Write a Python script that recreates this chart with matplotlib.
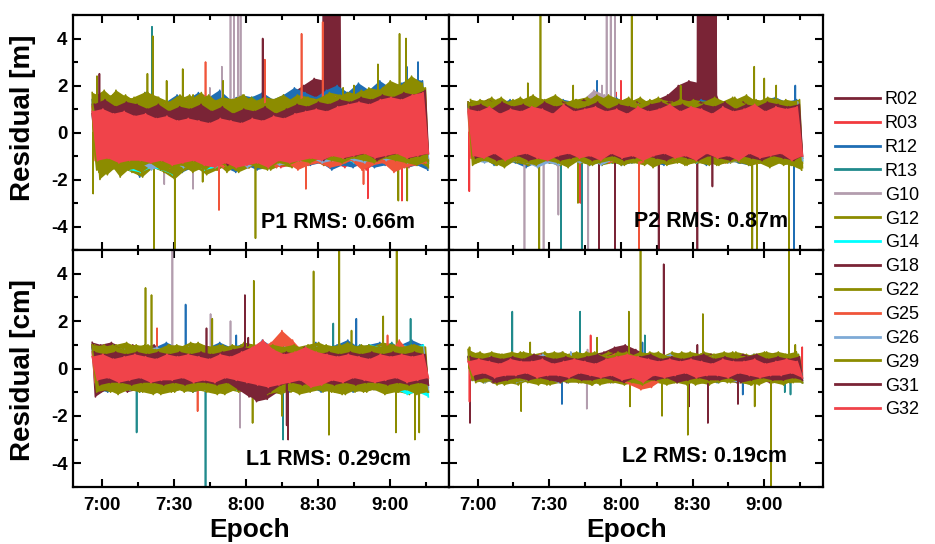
import numpy as np
import matplotlib
matplotlib.use("Agg")
import matplotlib.pyplot as plt
from matplotlib.lines import Line2D
from matplotlib.ticker import MultipleLocator

plt.rcParams['font.family'] = ['Liberation Sans', 'DejaVu Sans']

# ---------------- data ----------------
SATS = ['R02', 'R03', 'R12', 'R13', 'G10', 'G12', 'G14',
        'G18', 'G22', 'G25', 'G26', 'G29', 'G31', 'G32']
COLORS = ['#7A2436', '#F23A3E', '#1F6EB4', '#208A8C', '#B39DAE', '#8C8C00', '#00FFFF',
          '#7A2436', '#8C8C00', '#F0553A', '#7EAAD6', '#8C8C00', '#7A2436', '#F0434A']
T_START, T_END = 416.0, 556.0          # minutes of day (6:56 .. 9:16)
XTICKS = [420, 450, 480, 510, 540]
XTICK_LABELS = ['7:00', '7:30', '8:00', '8:30', '9:00']
YTICKS = [-4, -2, 0, 2, 4]
PANEL_LABELS = ['P1 RMS: 0.66m', 'P2 RMS: 0.87m', 'L1 RMS: 0.29cm', 'L2 RMS: 0.19cm']
YLABELS = ['Residual [m]', 'Residual [cm]']
SCALE = 0.1   # values are given in tenths of the panel unit

# residual swings per satellite: consecutive (high, low) pairs, evenly spaced epochs
P1_BAND = {
    'R02': [12,-9, 11,-10, 13,-8, 10,-11, 12,-9, 11,-8, 13,-10, 10,-9, 12,-11, 11,-8, 13,-9, 12,-10, 11,-8, 13,-9, 10,-10, 12,-8, 11,-9, 13,-7, 15,-6, 17,-4, 20,-2, 23,4, 22,3, 24,2, 13,-8, 12,-10, 11,-9, 13,-8, 12,-10, 11,-9, 13,-8, 12,-10],
    'R03': [10,-13, 9,-12, 11,-14, 8,-13, 10,-15, 9,-12, 8,-14, 10,-13, 7,-15, 9,-14, 8,-13, 7,-16, 9,-14, 8,-13, 10,-15, 9,-14, 11,-13, 10,-15, 12,-14, 11,-13, 13,-12, 12,-14, 14,-13, 13,-15, 15,-12, 14,-16, 16,-13, 15,-14, 17,-12, 16,-15, 18,-13, 17,-12],
    'R12': [14,-15, 16,-13, 13,-17, 15,-14, 14,-19, 17,-15, 15,-16, 13,-18, 16,-17, 14,-15, 17,-16, 15,-14, 18,-15, 14,-17, 16,-14, 15,-16, 17,-15, 14,-13, 16,-14, 19,-15, 17,-14, 15,-13, 18,-16, 20,-14, 17,-15, 21,-13, 18,-15, 22,-14, 19,-13, 21,-15, 23,-14, 22,-16],
    'R13': [12,-13, 14,-12, 13,-14, 11,-13, 12,-15, 14,-12, 13,-14, 12,-13, 11,-12, 13,-14, 12,-13, 10,-12, 14,-13, 12,-11, 13,-14, 15,-12, 12,-13, 14,-12, 13,-11, 12,-13, 14,-12, 13,-10, 15,-12, 14,-11, 16,-12, 13,-11, 15,-13, 14,-12, 16,-11, 15,-12, 17,-13, 16,-12],
    'G10': [8,-11, 9,-12, 10,-11, 8,-13, 9,-12, 11,-14, 10,-15, 9,-13, 12,-17, 10,-14, 11,-13, 13,-16, 12,-12, 14,-13, 15,-12, 13,-14, 11,-12, 10,-13, 9,-11, 11,-12, 10,-13, 9,-11, 11,-12, 10,-10, 12,-12, 11,-11, 10,-13, 12,-12, 11,-11, 13,-12, 12,-11, 13,-12],
    'G12': [16,-20, 13,-16, 18,-15, 15,-17, 14,-19, 17,-15, 15,-17, 13,-20, 16,-16, 14,-15, 17,-18, 13,-16, 15,-14, 14,-17, 16,-15, 12,-13, 15,-16, 14,-14, 13,-15, 16,-13, 15,-12, 14,-14, 17,-12, 16,-13, 15,-11, 18,-14, 16,-12, 19,-13, 20,-12, 18,-14, 21,-13, 19,-15],
    'G14': [9,-13, 10,-15, 8,-14, 11,-16, 9,-17, 10,-15, 8,-16, 9,-18, 10,-15, 11,-14, 9,-16, 8,-15, 10,-14, 9,-13, 11,-14, 10,-13, 9,-12, 10,-14, 11,-13, 9,-12, 10,-11, 12,-13, 11,-12, 10,-11, 12,-13, 11,-12, 13,-11, 12,-12, 11,-13, 13,-14, 12,-12, 14,-13],
    'G18': [8,-12, 10,-11, 9,-13, 11,-10, 10,-12, 8,-13, 9,-11, 10,-12, 8,-14, 11,-12, 9,-13, 10,-11, 8,-12, 9,-14, 11,-12, 10,-13, 9,-11, 8,-12, 10,-13, 11,-11, 12,-10, 10,-12, 11,-11, 13,-10, 12,-12, 11,-11, 13,-10, 12,-12, 14,-11, 13,-10, 14,-12, 15,-11],
    'G22': [15,-17, 18,-13, 14,-19, 16,-15, 13,-17, 17,-14, 15,-16, 12,-18, 14,-15, 16,-14, 13,-16, 15,-13, 12,-17, 14,-14, 16,-15, 13,-13, 15,-14, 12,-12, 14,-13, 13,-11, 15,-12, 14,-13, 16,-11, 15,-12, 17,-10, 16,-13, 18,-12, 15,-11, 17,-13, 19,-12, 16,-11, 18,-13],
    'G25': [11,-12, 10,-13, 9,-14, 12,-11, 10,-13, 11,-14, 9,-12, 12,-15, 10,-13, 13,-12, 11,-14, 10,-13, 12,-15, 11,-12, 10,-14, 13,-13, 12,-12, 11,-15, 14,-13, 12,-16, 13,-14, 14,-13, 12,-15, 15,-14, 13,-12, 14,-16, 12,-14, 15,-13, 16,-17, 14,-15, 15,-14, 16,-13],
    'G26': [10,-13, 9,-14, 11,-12, 10,-15, 9,-13, 10,-16, 11,-14, 9,-13, 10,-15, 12,-14, 10,-12, 9,-13, 10,-14, 8,-12, 9,-15, 11,-13, 10,-12, 9,-14, 11,-13, 10,-12, 12,-11, 11,-13, 10,-12, 12,-11, 13,-12, 11,-13, 12,-10, 13,-12, 14,-11, 12,-13, 13,-12, 14,-11],
    'G29': [17,-16, 15,-18, 16,-14, 13,-16, 15,-15, 17,-13, 14,-16, 12,-15, 15,-14, 13,-17, 14,-15, 16,-13, 12,-14, 14,-16, 13,-13, 15,-15, 12,-16, 14,-13, 16,-14, 13,-12, 15,-13, 14,-11, 16,-12, 15,-13, 17,-11, 16,-12, 19,-13, 18,-11, 22,-12, 20,-13, 24,-14, 21,-12],
    'G31': [12,-10, 14,-9, 11,-12, 13,-10, 12,-9, 10,-11, 12,-12, 9,-13, 11,-10, 10,-12, 12,-13, 9,-11, 11,-14, 8,-12, 10,-13, 9,-11, 11,-12, 8,-10, 10,-11, 12,-9, 11,-10, 13,-12, 12,-9, 14,-11, 13,-10, 15,-9, 14,-12, 16,-10, 15,-9, 17,-11, 16,-10, 18,-9],
    'G32': [9,-12, 10,-11, 8,-13, 9,-12, 7,-12, 8,-13, 6,-12, 7,-14, 5,-13, 6,-12, 5,-14, 4,-15, 6,-13, 5,-15, 4,-14, 6,-13, 5,-15, 7,-12, 6,-13, 8,-12, 9,-11, 10,-12, 9,-10, 11,-11, 12,-10, 13,-9, 12,-11, 14,-10, 15,-9, 14,-11, 16,-10, 17,-9],
}
P1_SPIKES = {
    'R03': [(530.8, -28), (545.0, -29), (460.0, 15)],
    'R12': [(551.7, 30), (547.0, 28)],
    'R13': [(440.9, 45)],
    'G10': [(470.0, 28), (473.6, 60), (475.1, 60), (476.8, 60), (477.8, 60), (465.0, 19), (458.0, -24), (446.0, -22)],
    'G12': [(441.2, 41), (441.7, -60), (453.7, 27), (450.4, -60), (544.0, 42), (546.7, 40), (543.5, -29), (547.2, -29), (484.0, -45), (535.0, 29)],
    'G18': [(487.0, 40)],
    'G22': [(439.0, 25), (462.0, -21), (470.5, 22), (520.5, 19)],
    'G25': [(463.2, 30), (468.8, -33), (487.9, 31), (503.2, 42), (512.0, 47), (505.0, -24), (529.0, -22)],
    'G29': [(416.4, -26), (418.0, 24), (447.0, 22), (458.0, 16), (525.0, 20)],
    'G31': [(419.0, 25)],
}
P1_BLOCK = {'R02': (512.0, 519.4, [15, 80, 14, 80, 16, 80, 13, 80, 15, 80, 14, 80, 16, 80, 15, 80, 14, 80, 16, 80, 12])}

P2_BAND = {
    'R02': [12,-8, 13,-10, 11,-9, 14,-11, 12,-10, 13,-8, 11,-9, 12,-11, 13,-10, 11,-9, 12,-8, 14,-10, 12,-11, 11,-9, 13,-10, 12,-8, 11,-9, 13,-10, 14,-8, 16,-6, 20,-4, 22,2, 21,3, 23,1, 12,-9, 13,-10, 11,-8, 12,-9, 13,-10, 11,-9, 12,-8, 11,-10],
    'R03': [10,-12, 9,-12, 11,-11, 10,-13, 9,-12, 11,-11, 10,-12, 12,-13, 9,-11, 10,-12, 11,-13, 9,-12, 10,-11, 12,-12, 10,-13, 11,-12, 9,-11, 10,-12, 11,-13, 10,-12, 12,-11, 10,-12, 9,-13, 11,-12, 10,-11, 12,-13, 10,-12, 11,-11, 9,-12, 11,-13, 10,-12, 11,-11],
    'R12': [12,-12, 13,-11, 11,-14, 12,-12, 14,-13, 12,-15, 11,-13, 13,-12, 12,-14, 14,-13, 13,-12, 12,-14, 11,-13, 13,-12, 15,-14, 12,-13, 13,-12, 11,-13, 14,-14, 12,-12, 13,-13, 12,-12, 14,-14, 13,-13, 12,-12, 14,-13, 13,-14, 12,-12, 14,-13, 15,-12, 13,-14, 14,-13],
    'R13': [11,-12, 12,-11, 10,-13, 12,-12, 11,-11, 13,-12, 12,-13, 11,-12, 10,-11, 12,-13, 13,-12, 11,-11, 12,-12, 10,-13, 11,-12, 12,-11, 13,-12, 11,-13, 12,-11, 10,-12, 12,-12, 11,-11, 13,-13, 12,-12, 11,-11, 12,-13, 10,-12, 12,-11, 13,-12, 11,-13, 12,-12, 13,-11],
    'G10': [9,-10, 10,-11, 11,-9, 9,-12, 10,-10, 11,-11, 12,-13, 10,-12, 11,-14, 12,-12, 10,-11, 14,-10, 18,-11, 16,-10, 9,-12, 10,-11, 11,-10, 9,-12, 10,-11, 9,-10, 11,-11, 10,-12, 9,-10, 10,-11, 11,-10, 9,-12, 10,-11, 11,-10, 9,-11, 10,-12, 11,-10, 10,-11],
    'G12': [14,-13, 13,-12, 15,-14, 12,-13, 14,-12, 13,-14, 15,-12, 14,-13, 16,-14, 13,-12, 14,-13, 15,-14, 13,-12, 16,-13, 14,-14, 13,-12, 15,-13, 12,-12, 14,-14, 13,-13, 12,-12, 14,-13, 13,-14, 15,-12, 13,-13, 14,-12, 16,-14, 13,-13, 15,-12, 14,-14, 13,-13, 14,-15],
    'G14': [10,-12, 9,-11, 11,-13, 10,-12, 9,-11, 10,-12, 11,-13, 9,-12, 10,-11, 12,-13, 10,-12, 9,-11, 11,-12, 10,-13, 9,-11, 10,-12, 11,-11, 9,-13, 10,-12, 11,-11, 10,-12, 9,-13, 11,-11, 10,-12, 12,-12, 10,-11, 9,-13, 11,-12, 10,-11, 12,-12, 11,-13, 12,-12],
    'G18': [13,-9, 12,-10, 14,-11, 12,-9, 11,-10, 13,-11, 14,-12, 12,-9, 11,-10, 13,-11, 12,-10, 14,-9, 12,-11, 13,-10, 11,-9, 12,-11, 13,-10, 11,-12, 12,-10, 13,-11, 12,-9, 11,-10, 13,-11, 12,-10, 11,-9, 12,-11, 13,-10, 11,-9, 12,-11, 13,-10, 12,-12, 11,-10],
    'G22': [12,-13, 14,-12, 13,-14, 15,-12, 12,-13, 14,-14, 16,-12, 13,-13, 15,-14, 12,-12, 14,-13, 13,-12, 16,-14, 14,-13, 13,-12, 15,-13, 12,-14, 14,-12, 13,-13, 12,-12, 14,-14, 13,-12, 12,-13, 14,-14, 13,-12, 15,-13, 12,-14, 14,-12, 13,-13, 14,-12, 13,-14, 12,-13],
    'G25': [9,-11, 10,-12, 11,-10, 9,-13, 10,-11, 12,-12, 10,-14, 11,-11, 9,-12, 10,-13, 11,-11, 12,-12, 10,-11, 9,-13, 11,-12, 10,-11, 12,-13, 11,-12, 10,-11, 9,-12, 11,-13, 10,-12, 12,-11, 11,-12, 10,-13, 12,-12, 11,-11, 10,-13, 12,-12, 11,-11, 10,-12, 11,-13],
    'G26': [10,-12, 11,-13, 9,-12, 10,-14, 11,-12, 9,-13, 10,-15, 12,-13, 11,-14, 10,-12, 9,-13, 11,-12, 10,-14, 9,-12, 11,-13, 10,-12, 12,-11, 10,-13, 11,-12, 9,-11, 10,-13, 11,-12, 10,-11, 12,-12, 11,-13, 10,-12, 11,-11, 12,-13, 10,-12, 11,-11, 12,-12, 13,-12],
    'G29': [13,-14, 12,-12, 14,-13, 11,-15, 13,-12, 15,-13, 12,-14, 14,-12, 13,-13, 12,-15, 14,-12, 13,-14, 15,-13, 12,-12, 13,-14, 14,-13, 12,-12, 13,-15, 15,-13, 12,-12, 14,-14, 13,-13, 12,-12, 14,-14, 13,-13, 15,-12, 12,-14, 14,-13, 13,-15, 12,-13, 14,-14, 13,-16],
    'G31': [11,-11, 12,-10, 10,-12, 13,-11, 11,-10, 12,-12, 10,-11, 13,-10, 11,-12, 12,-11, 10,-10, 11,-12, 13,-11, 10,-10, 12,-12, 11,-11, 10,-10, 12,-11, 13,-12, 11,-10, 12,-11, 10,-12, 12,-10, 11,-11, 13,-12, 10,-10, 12,-11, 11,-12, 13,-10, 12,-11, 11,-12, 12,-10],
    'G32': [10,-10, 9,-11, 11,-9, 8,-12, 10,-10, 9,-9, 11,-11, 10,-12, 8,-10, 12,-9, 9,-11, 10,-10, 11,-12, 9,-9, 10,-11, 8,-10, 11,-12, 9,-10, 10,-9, 12,-11, 9,-10, 11,-12, 10,-9, 8,-11, 11,-10, 9,-12, 10,-9, 12,-11, 9,-10, 11,-9, 10,-12, 11,-10],
}
P2_SPIKES = {
    'R02': [(512.0, -60)],
    'R03': [(416.5, -25), (463.0, -30), (480.0, 22), (478.0, 17)],
    'R12': [(552.5, -60), (470.0, 22), (553.0, 20)],
    'R13': [(454.9, -60), (463.6, -60)],
    'G10': [(474.0, 60), (475.7, 60), (477.5, 60), (472.0, 20), (439.6, -60), (447.6, -60), (453.8, -35), (466.3, -60)],
    'G12': [(446.3, 60), (445.8, -60), (484.5, 60), (535.8, 28), (535.0, -60), (537.0, -60)],
    'G18': [(470.8, -60), (477.5, -60), (495.8, -60)],
    'G22': [(462.0, -30), (550.4, -60), (441.0, 21), (460.0, 20)],
    'G25': [(487.5, -60)],
    'G29': [(505.0, 20), (540.0, 23), (545.0, 20)],
    'G31': [(518.3, -23)],
}
P2_BLOCK = {'R02': (511.7, 520.0, [12, 80, 13, 80, 11, 80, 14, 80, 12, 80, 9, 80, 13, 80, 12, 80, 11, 80, 14, 80, 10])}

L1_BAND = {
    'R02': [11,-12, 10,-9, 11,-8, 9,-10, 10,-9, 9,-8, 10,-9, 8,-8, 9,-7, 8,-8, 9,-9, 8,-7, 9,-8, 7,-9, 8,-8, 9,-10, 8,-11, 7,-9, 8,-8, 7,-9, 8,-8, 9,-7, 7,-8, 8,-9, 7,-8, 8,-7, 9,-8, 7,-9, 8,-7, 9,-8, 7,-9, 8,-8],
    'R03': [6,-6, 7,-5, 5,-7, 6,-6, 7,-5, 6,-7, 5,-6, 7,-5, 6,-7, 5,-6, 7,-5, 6,-8, 5,-6, 7,-7, 6,-5, 8,-6, 7,-7, 6,-5, 7,-6, 6,-7, 5,-5, 7,-6, 6,-7, 5,-5, 7,-6, 6,-7, 5,-5, 7,-6, 6,-7, 5,-5, 7,-6, 6,-7],
    'R12': [9,-9, 8,-10, 10,-9, 9,-8, 8,-10, 10,-9, 9,-10, 11,-8, 9,-9, 8,-10, 10,-9, 9,-8, 11,-10, 9,-9, 10,-8, 8,-10, 12,-9, 9,-8, 10,-10, 9,-9, 8,-8, 11,-10, 9,-9, 10,-8, 12,-10, 9,-9, 10,-8, 11,-10, 9,-9, 10,-8, 12,-9, 10,-10],
    'R13': [8,-8, 7,-9, 9,-8, 8,-7, 7,-9, 9,-8, 8,-9, 7,-8, 9,-7, 8,-9, 7,-8, 9,-9, 8,-7, 7,-8, 9,-9, 8,-8, 7,-9, 9,-7, 8,-8, 7,-9, 9,-8, 8,-7, 7,-9, 9,-8, 8,-8, 10,-9, 8,-7, 9,-8, 11,-9, 8,-8, 9,-9, 8,-8],
    'G10': [7,-8, 8,-7, 9,-8, 7,-9, 8,-7, 9,-8, 7,-9, 8,-8, 9,-7, 8,-9, 7,-8, 9,-7, 8,-9, 7,-8, 9,-8, 8,-7, 7,-9, 8,-8, 9,-7, 7,-8, 8,-9, 9,-7, 7,-8, 8,-9, 9,-8, 7,-7, 8,-9, 9,-8, 7,-7, 8,-9, 9,-8, 7,-8],
    'G12': [10,-9, 9,-10, 10,-8, 11,-9, 9,-10, 10,-11, 8,-9, 10,-10, 9,-8, 11,-9, 10,-10, 9,-11, 10,-9, 8,-10, 11,-9, 10,-8, 9,-10, 10,-11, 8,-9, 9,-10, 10,-8, 11,-9, 9,-10, 10,-11, 8,-9, 10,-10, 9,-8, 11,-9, 10,-10, 9,-11, 10,-9, 9,-10],
    'G14': [7,-7, 6,-8, 7,-6, 8,-9, 6,-7, 7,-8, 8,-6, 6,-7, 7,-9, 8,-8, 6,-7, 7,-6, 8,-8, 7,-9, 6,-7, 8,-8, 7,-9, 6,-7, 8,-8, 7,-6, 9,-8, 7,-7, 8,-9, 7,-8, 9,-7, 8,-9, 10,-8, 9,-10, 8,-9, 10,-11, 9,-10, 10,-12],
    'G18': [10,-11, 9,-9, 10,-8, 8,-9, 9,-8, 8,-7, 9,-8, 7,-6, 8,-9, 7,-7, 8,-8, 9,-7, 7,-9, 8,-8, 9,-10, 8,-14, 7,-13, 9,-10, 8,-9, 7,-8, 9,-7, 8,-9, 7,-8, 8,-7, 9,-9, 7,-8, 8,-7, 9,-9, 7,-8, 8,-7, 9,-8, 7,-7],
    'G22': [9,-9, 10,-8, 8,-10, 9,-9, 10,-8, 9,-10, 8,-9, 10,-8, 9,-10, 8,-9, 10,-9, 9,-8, 8,-10, 10,-9, 9,-8, 8,-10, 10,-9, 9,-8, 10,-10, 8,-9, 9,-8, 10,-10, 9,-9, 8,-8, 10,-10, 9,-9, 8,-8, 10,-9, 9,-10, 8,-8, 10,-9, 9,-10],
    'G25': [7,-6, 6,-7, 7,-8, 6,-6, 8,-7, 7,-6, 6,-8, 7,-7, 8,-6, 6,-7, 7,-8, 6,-6, 7,-7, 8,-8, 7,-6, 8,-7, 9,-8, 11,-8, 16,-9, 12,-9, 7,-7, 6,-6, 8,-7, 7,-8, 6,-6, 7,-7, 8,-6, 7,-8, 6,-7, 12,-6, 7,-8, 6,-7],
    'G26': [8,-7, 7,-8, 9,-7, 8,-9, 7,-8, 8,-7, 9,-9, 7,-8, 8,-7, 9,-8, 7,-9, 8,-7, 9,-8, 7,-7, 8,-9, 9,-8, 7,-7, 8,-8, 9,-9, 7,-7, 8,-8, 9,-7, 8,-9, 7,-8, 9,-7, 8,-8, 7,-9, 9,-8, 8,-7, 7,-9, 8,-8, 9,-9],
    'G29': [10,-10, 9,-9, 10,-11, 8,-9, 9,-10, 10,-9, 8,-11, 9,-10, 10,-9, 9,-10, 11,-9, 9,-10, 10,-11, 9,-9, 8,-10, 10,-9, 9,-11, 10,-10, 9,-9, 10,-11, 8,-10, 9,-9, 10,-10, 9,-11, 11,-9, 9,-10, 10,-9, 9,-11, 10,-10, 9,-9, 10,-11, 9,-10],
    'G31': [7,-7, 6,-6, 7,-6, 6,-7, 7,-6, 6,-6, 7,-7, 6,-6, 7,-7, 6,-6, 7,-6, 6,-7, 7,-6, 8,-9, 9,-12, 8,-13, 7,-10, 6,-7, 7,-6, 6,-7, 7,-6, 6,-6, 7,-7, 6,-6, 7,-7, 6,-6, 7,-6, 6,-7, 7,-6, 6,-7, 7,-6, 6,-7],
    'G32': [5,-5, 6,-4, 4,-6, 5,-5, 6,-4, 5,-6, 4,-5, 6,-5, 5,-4, 6,-6, 5,-5, 4,-6, 6,-4, 5,-5, 7,-6, 9,-7, 12,-8, 8,-7, 6,-6, 7,-5, 9,-8, 7,-7, 6,-5, 5,-6, 6,-4, 5,-5, 4,-6, 6,-5, 5,-4, 6,-6, 5,-5, 6,-4],
}
L1_SPIKES = {
    'R12': [(454.9, 27), (526.0, 21), (476.0, 14)],
    'R13': [(434.5, -27), (463.2, -60), (516.4, 19), (548.6, 21), (495.5, -30)],
    'G10': [(449.4, 60), (465.3, 23), (473.6, 20), (477.6, -25)],
    'G12': [(438.2, 34), (440.7, 31), (483.3, 37), (482.8, -23), (508.2, 41)],
    'G18': [(479.6, 31), (497.6, -30), (481.0, 13)],
    'G22': [(518.9, 60), (542.8, 60), (537.2, 22), (514.6, -28), (542.5, -27)],
    'G25': [(459.9, -18), (443.0, 17), (539.0, 14)],
    'G29': [(550.4, -30), (552.2, -27), (466.0, 21), (524.0, 16), (495.0, -20)],
    'G31': [(463.6, 17), (497.0, -24)],
}

L2_BAND = {
    'R02': [5,-5, 4,-4, 5,-6, 4,-5, 5,-4, 4,-5, 6,-5, 5,-4, 4,-5, 5,-6, 4,-4, 5,-5, 6,-5, 7,-4, 9,-3, 10,-2, 8,-4, 6,-5, 5,-4, 4,-5, 5,-6, 4,-4, 5,-5, 6,-4, 4,-5, 5,-6, 4,-4, 5,-5, 6,-4, 4,-5, 5,-6, 4,-4],
    'R03': [4,-4, 3,-5, 4,-4, 5,-3, 4,-5, 3,-4, 4,-4, 5,-5, 3,-4, 4,-3, 5,-5, 4,-4, 3,-5, 4,-4, 5,-4, 4,-5, 3,-4, 5,-5, 4,-4, 3,-5, 4,-4, 5,-4, 4,-5, 3,-4, 4,-4, 5,-5, 3,-4, 4,-4, 5,-5, 4,-4, 3,-5, 4,-4],
    'R12': [5,-5, 4,-6, 5,-5, 4,-5, 6,-6, 5,-5, 4,-6, 5,-5, 4,-5, 5,-6, 6,-5, 4,-6, 5,-5, 4,-6, 5,-5, 4,-5, 6,-6, 5,-5, 4,-6, 5,-5, 4,-5, 6,-6, 5,-5, 4,-6, 5,-5, 4,-6, 5,-5, 6,-6, 4,-5, 5,-6, 4,-5, 5,-5],
    'R13': [5,-5, 4,-4, 5,-5, 4,-6, 5,-4, 4,-5, 5,-5, 6,-4, 4,-5, 5,-5, 4,-4, 5,-6, 4,-5, 5,-4, 6,-5, 4,-5, 5,-4, 4,-6, 5,-5, 4,-4, 5,-5, 6,-4, 4,-5, 5,-6, 4,-5, 5,-4, 4,-5, 5,-6, 6,-5, 4,-6, 5,-5, 4,-6],
    'G10': [4,-5, 5,-4, 4,-5, 5,-4, 4,-5, 6,-4, 5,-5, 4,-4, 6,-5, 7,-4, 5,-5, 4,-4, 5,-5, 4,-4, 5,-5, 4,-4, 5,-5, 4,-4, 5,-5, 4,-4, 5,-5, 4,-4, 5,-5, 4,-4, 5,-5, 4,-4, 5,-5, 4,-4, 5,-5, 4,-4, 5,-5, 4,-4],
    'G12': [7,-6, 6,-5, 7,-7, 6,-6, 5,-7, 7,-5, 6,-6, 7,-7, 5,-6, 6,-5, 7,-6, 6,-7, 5,-5, 7,-6, 6,-7, 5,-6, 7,-5, 6,-6, 5,-7, 7,-6, 6,-5, 5,-6, 7,-7, 6,-5, 5,-6, 7,-6, 6,-7, 5,-5, 6,-6, 7,-7, 6,-5, 5,-6],
    'G14': [4,-4, 5,-4, 4,-5, 5,-4, 4,-4, 5,-5, 4,-4, 5,-4, 4,-5, 5,-4, 4,-4, 5,-5, 4,-4, 5,-4, 4,-5, 5,-4, 4,-4, 5,-5, 4,-4, 5,-4, 4,-5, 5,-4, 4,-4, 5,-5, 4,-4, 5,-4, 4,-5, 5,-4, 4,-4, 5,-5, 4,-4, 6,-4],
    'G18': [5,-5, 6,-4, 5,-6, 4,-5, 6,-5, 5,-4, 4,-6, 6,-5, 5,-4, 6,-5, 5,-6, 4,-4, 6,-5, 5,-5, 7,-4, 6,-5, 5,-6, 4,-5, 6,-4, 5,-5, 4,-6, 6,-5, 5,-4, 6,-5, 4,-5, 5,-6, 6,-4, 5,-5, 4,-6, 6,-5, 5,-4, 6,-5],
    'G22': [6,-5, 7,-6, 5,-5, 6,-6, 7,-5, 6,-6, 5,-7, 6,-5, 7,-6, 6,-5, 5,-6, 7,-7, 6,-5, 5,-6, 7,-6, 6,-5, 5,-7, 7,-6, 6,-5, 5,-6, 7,-7, 6,-5, 5,-6, 6,-6, 7,-5, 6,-6, 5,-7, 6,-5, 7,-6, 6,-5, 5,-6, 6,-6],
    'G25': [4,-4, 5,-5, 4,-4, 5,-5, 4,-5, 5,-4, 4,-5, 6,-4, 4,-5, 5,-4, 4,-5, 5,-5, 4,-4, 5,-6, 6,-5, 5,-7, 4,-9, 5,-8, 4,-5, 5,-4, 4,-5, 5,-5, 4,-4, 5,-5, 4,-4, 5,-5, 4,-4, 5,-5, 4,-5, 5,-4, 4,-5, 5,-4],
    'G26': [5,-5, 4,-6, 5,-5, 4,-4, 5,-6, 4,-5, 5,-4, 6,-5, 4,-6, 5,-5, 4,-4, 5,-5, 6,-6, 4,-5, 5,-4, 4,-5, 5,-6, 4,-4, 5,-5, 6,-5, 4,-4, 5,-6, 4,-5, 5,-4, 4,-5, 5,-6, 4,-4, 5,-5, 6,-5, 4,-4, 5,-5, 4,-5],
    'G29': [8,-5, 6,-6, 5,-5, 6,-7, 5,-6, 7,-5, 6,-6, 5,-7, 6,-5, 7,-6, 5,-6, 6,-5, 7,-7, 5,-6, 6,-5, 7,-6, 5,-7, 6,-5, 7,-6, 5,-6, 6,-5, 7,-7, 6,-6, 5,-5, 6,-6, 7,-5, 5,-6, 6,-7, 7,-5, 5,-6, 6,-6, 7,-5],
    'G31': [5,-5, 4,-4, 5,-6, 4,-5, 5,-4, 4,-5, 6,-4, 5,-5, 4,-6, 5,-4, 4,-5, 5,-5, 6,-4, 4,-5, 5,-6, 4,-4, 5,-5, 6,-5, 4,-4, 5,-6, 4,-5, 5,-4, 6,-5, 4,-5, 5,-4, 4,-6, 5,-5, 6,-4, 4,-5, 5,-5, 4,-4, 5,-5],
    'G32': [3,-3, 4,-2, 3,-4, 2,-3, 4,-3, 3,-2, 3,-4, 4,-3, 2,-3, 3,-4, 4,-2, 3,-3, 2,-4, 4,-3, 5,-5, 6,-4, 5,-6, 4,-3, 3,-4, 4,-3, 3,-2, 4,-4, 3,-3, 2,-3, 4,-4, 3,-2, 3,-3, 4,-4, 2,-3, 3,-3, 4,-2, 3,-4],
}
L2_SPIKES = {
    'R02': [(416.8, -23), (508.5, -16)],
    'R03': [(467.3, 14), (416.6, -14), (555.9, 9)],
    'R12': [(455.3, -15), (531.0, -11), (489.0, 11)],
    'R13': [(434.5, 24), (462.9, 24), (490.0, 14), (548.6, -10), (551.0, -11)],
    'G10': [(465.7, -17), (466.0, 8)],
    'G12': [(483.3, 24), (483.8, -16), (497.2, -20), (438.2, -18), (470.0, 13)],
    'G18': [(497.9, 44), (516.4, -23), (512.0, 10)],
    'G22': [(488.2, 60), (508.0, -28), (514.3, 23), (442.0, 11)],
    'G26': [(459.0, 7)],
    'G29': [(550.4, 60), (542.8, -27), (542.9, -60), (536.0, -16), (553.0, 10), (416.6, 9)],
    'G31': [(529.0, -15)],
}

PANELS = [(P1_BAND, P1_SPIKES, P1_BLOCK), (P2_BAND, P2_SPIKES, P2_BLOCK),
          (L1_BAND, L1_SPIKES, {}), (L2_BAND, L2_SPIKES, {})]


def draw_series(ax, band, spikes, block, color, z, phase):
    n = len(band)
    step = (T_END - T_START) / (n - 1)
    # each receiver channel's swing samples are staggered a fraction of a step
    tb = np.clip(np.linspace(T_START, T_END, n) + (phase - 0.5) * step, T_START, T_END)
    vb = np.array(band, dtype=float) * SCALE
    ax.fill(np.r_[tb[0::2], tb[1::2][::-1]], np.r_[vb[0::2], vb[1::2][::-1]],
            color=color, lw=0, zorder=z)
    t, v = list(tb), list(vb)
    for ts, sv in spikes:
        t += [ts - 0.01, ts, ts + 0.01]
        v += [0.0, sv * SCALE, 0.0]
    if block is not None:
        t0, t1, bv = block
        t += list(np.linspace(t0, t1, len(bv)))
        v += [b * SCALE for b in bv]
    order = np.argsort(np.array(t), kind='stable')
    ax.plot(np.array(t)[order], np.array(v)[order], color=color, lw=1.2, zorder=z + 0.005)


# ---------------- figure ----------------
W, H = 935, 544
fig = plt.figure(figsize=(W / 100, H / 100), dpi=100)
L, M, R = 73 / W, 449 / W, 823 / W
T, C, B = 1 - 15 / H, 1 - 250 / H, 1 - 487 / H
boxes = [(L, C, M - L, T - C), (M, C, R - M, T - C), (L, B, M - L, C - B), (M, B, R - M, C - B)]
label_pos = [(0.91, 0.094), (0.906, 0.097), (0.899, 0.093), (0.904, 0.105)]
PHASES = [0.10, 0.85, 0.40, 0.65, 0.20, 0.95, 0.55, 0.30, 0.75, 0.05, 0.60, 0.35, 0.90, 0.50]

for k, (band, spikes, blocks) in enumerate(PANELS):
    ax = fig.add_axes(boxes[k])
    for i, (sat, col) in enumerate(zip(SATS, COLORS)):
        draw_series(ax, band[sat], spikes.get(sat, []), blocks.get(sat), col,
                    2.0 + 0.02 * i, PHASES[i])
    ax.set_xlim(408, 564.6)
    ax.set_ylim(-5, 5)
    ax.set_xticks(XTICKS)
    ax.set_xticklabels(XTICK_LABELS if k >= 2 else [])
    ax.xaxis.set_minor_locator(MultipleLocator(15))
    ax.set_yticks(YTICKS)
    ax.set_yticklabels([str(y) for y in YTICKS] if k % 2 == 0 else [])
    ax.yaxis.set_minor_locator(MultipleLocator(1))
    ax.tick_params(which='both', direction='in', top=True, right=True, width=1.5, color='black')
    ax.tick_params(which='major', length=6)
    ax.tick_params(which='minor', length=3.5)
    ax.tick_params(axis='x', pad=7)
    ax.tick_params(axis='y', pad=4)
    for lab in ax.get_xticklabels() + ax.get_yticklabels():
        lab.set_fontsize(13.5)
        lab.set_fontweight('bold')
    for sp in ax.spines.values():
        sp.set_linewidth(1.6)
        sp.set_zorder(5)
    ax.text(label_pos[k][0], label_pos[k][1], PANEL_LABELS[k], transform=ax.transAxes,
            ha='right', va='baseline', fontsize=15.5, fontweight='bold', zorder=6)

fig.text(23 / W, 1 - 118 / H, YLABELS[0], rotation=90, ha='center', va='center',
         fontsize=20, fontweight='bold')
fig.text(23 / W, 1 - 370 / H, YLABELS[1], rotation=90, ha='center', va='center',
         fontsize=20, fontweight='bold')
fig.text(250 / W, 1 - 530 / H, 'Epoch', ha='center', va='center', fontsize=19, fontweight='bold')
fig.text(627 / W, 1 - 530 / H, 'Epoch', ha='center', va='center', fontsize=19, fontweight='bold')

handles = [Line2D([0], [0], color=c, lw=2) for c in COLORS]
fig.legend(handles, SATS, loc='upper left', bbox_to_anchor=(828 / W, 1 - 84 / H),
           frameon=False, fontsize=13, handlelength=2.5, handletextpad=0.25,
           labelspacing=0.38, borderaxespad=0)

fig.savefig('out.png', dpi=100)
